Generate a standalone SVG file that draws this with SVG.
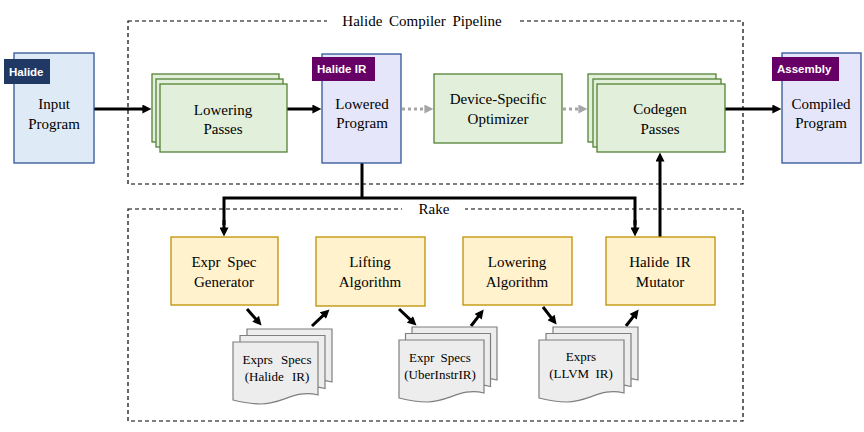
<svg xmlns="http://www.w3.org/2000/svg" width="864" height="432" viewBox="0 0 864 432">
<style>
.frame{fill:none;stroke:#000;stroke-width:1.2;stroke-dasharray:4 3}
.prog-in{fill:#DEEBF7;stroke:#2F5597;stroke-width:1.3}
.prog{fill:#E6E6FA;stroke:#2F5597;stroke-width:1.3}
.green{fill:#E2EFDA;stroke:#548235;stroke-width:1.3}
.yellow{fill:#FFF2CC;stroke:#BF9000;stroke-width:1.3}
.doc{fill:#EDEDED;stroke:#7F7F7F;stroke-width:1.2}
.conn{fill:none;stroke:#000;stroke-width:3}
.dot{fill:none;stroke:#A6A6A6;stroke-width:3;stroke-dasharray:3 3}
</style>
<defs>
<marker id="ah" viewBox="0 0 10 10" refX="4" refY="5" markerWidth="10" markerHeight="9" markerUnits="userSpaceOnUse" orient="auto">
<path d="M0,0 L10,5 L0,10 z" fill="#000"/>
</marker>
<marker id="ahg" viewBox="0 0 10 10" refX="4" refY="5" markerWidth="10" markerHeight="9" markerUnits="userSpaceOnUse" orient="auto">
<path d="M0,0 L10,5 L0,10 z" fill="#A6A6A6"/>
</marker>
<path id="docshape" d="M0,0 H85 V53 C62,47 50,62 28,62 C17,62 8,60 0,58 Z"/>
</defs>

<g id="frames">
<rect class="frame" x="128" y="21" width="615" height="163"/>
<rect x="327" y="12" width="190" height="18" fill="#fff"/>
<text x="422" y="26" style="font-family:'Liberation Serif',serif;font-size:15px;text-anchor:middle;word-spacing:3px">Halide Compiler Pipeline</text>
<rect class="frame" x="128" y="209" width="615" height="212"/>
<rect x="402" y="200" width="63" height="18" fill="#fff"/>
<text x="434" y="214" style="font-family:'Liberation Serif',serif;font-size:15px;text-anchor:middle">Rake</text>
</g>

<g id="connectors">
<line class="conn" x1="94" y1="109" x2="146" y2="109" marker-end="url(#ah)"/>
<line class="conn" x1="287" y1="109" x2="316" y2="109" marker-end="url(#ah)"/>
<line class="dot" x1="402" y1="109" x2="428" y2="109" marker-end="url(#ahg)"/>
<line class="dot" x1="563" y1="109" x2="582" y2="109" marker-end="url(#ahg)"/>
<line class="conn" x1="725" y1="109" x2="776" y2="109" marker-end="url(#ah)"/>
<path class="conn" d="M362,163 V198"/>
<path class="conn" d="M224,225 V198 H635 V225"/>
<line class="conn" x1="224" y1="220" x2="224" y2="231" marker-end="url(#ah)"/>
<line class="conn" x1="635" y1="220" x2="635" y2="231" marker-end="url(#ah)"/>
<line class="conn" x1="660" y1="237" x2="660" y2="158" marker-end="url(#ah)"/>
<line class="conn" x1="247" y1="309" x2="258" y2="321.5" marker-end="url(#ah)"/>
<line class="conn" x1="312" y1="326" x2="325.6" y2="313.1" marker-end="url(#ah)"/>
<line class="conn" x1="399" y1="309" x2="412.6" y2="321.9" marker-end="url(#ah)"/>
<line class="conn" x1="471" y1="326" x2="480.4" y2="313.8" marker-end="url(#ah)"/>
<line class="conn" x1="543" y1="307" x2="553.3" y2="320.3" marker-end="url(#ah)"/>
<line class="conn" x1="626" y1="326" x2="635.4" y2="313.8" marker-end="url(#ah)"/>
</g>

<g id="input-program">
<rect class="prog-in" x="14" y="53" width="80" height="110"/>
<rect x="4" y="59" width="46" height="25" fill="#1F3864"/>
<text x="9" y="76" style="font-family:'Liberation Sans',sans-serif;font-size:11.5px;font-weight:bold;fill:#fff">Halide</text>
<text x="54" y="109" style="font-family:'Liberation Serif',serif;font-size:15px;text-anchor:middle">Input</text>
<text x="54" y="129" style="font-family:'Liberation Serif',serif;font-size:15px;text-anchor:middle">Program</text>
</g>

<g id="lowering-passes">
<rect class="green" x="152" y="74" width="127" height="68"/>
<rect class="green" x="156" y="79" width="127" height="68"/>
<rect class="green" x="160" y="84" width="127" height="68"/>
<text x="223" y="115" style="font-family:'Liberation Serif',serif;font-size:15px;text-anchor:middle">Lowering</text>
<text x="223" y="134" style="font-family:'Liberation Serif',serif;font-size:15px;text-anchor:middle">Passes</text>
</g>

<g id="lowered-program">
<rect class="prog" x="322" y="54" width="79" height="109"/>
<rect x="312" y="57" width="63" height="24" fill="#660066"/>
<text x="317" y="73" style="font-family:'Liberation Sans',sans-serif;font-size:11.5px;font-weight:bold;fill:#fff">Halide IR</text>
<text x="362" y="109" style="font-family:'Liberation Serif',serif;font-size:15px;text-anchor:middle">Lowered</text>
<text x="362" y="128" style="font-family:'Liberation Serif',serif;font-size:15px;text-anchor:middle">Program</text>
</g>

<g id="device-optimizer">
<rect class="green" x="434" y="74" width="128" height="69"/>
<text x="498" y="104" style="font-family:'Liberation Serif',serif;font-size:15px;text-anchor:middle">Device-Specific</text>
<text x="498" y="124" style="font-family:'Liberation Serif',serif;font-size:15px;text-anchor:middle">Optimizer</text>
</g>

<g id="codegen-passes">
<rect class="green" x="588" y="74" width="128" height="68"/>
<rect class="green" x="593" y="79" width="128" height="68"/>
<rect class="green" x="597" y="84" width="128" height="68"/>
<text x="660" y="114" style="font-family:'Liberation Serif',serif;font-size:15px;text-anchor:middle">Codegen</text>
<text x="660" y="134" style="font-family:'Liberation Serif',serif;font-size:15px;text-anchor:middle">Passes</text>
</g>

<g id="compiled-program">
<rect class="prog" x="782" y="53" width="79" height="110"/>
<rect x="772" y="57" width="67" height="24" fill="#660066"/>
<text x="777" y="73" style="font-family:'Liberation Sans',sans-serif;font-size:11.5px;font-weight:bold;fill:#fff">Assembly</text>
<text x="821" y="109" style="font-family:'Liberation Serif',serif;font-size:15px;text-anchor:middle">Compiled</text>
<text x="821" y="128" style="font-family:'Liberation Serif',serif;font-size:15px;text-anchor:middle">Program</text>
</g>

<g id="expr-spec-generator">
<rect class="yellow" x="171" y="237" width="107" height="68"/>
<text x="224" y="267" style="font-family:'Liberation Serif',serif;font-size:15px;text-anchor:middle;word-spacing:3px">Expr Spec</text>
<text x="224" y="287" style="font-family:'Liberation Serif',serif;font-size:15px;text-anchor:middle">Generator</text>
</g>

<g id="lifting-algorithm">
<rect class="yellow" x="316" y="237" width="109" height="69"/>
<text x="370" y="267" style="font-family:'Liberation Serif',serif;font-size:15px;text-anchor:middle">Lifting</text>
<text x="370" y="287" style="font-family:'Liberation Serif',serif;font-size:15px;text-anchor:middle">Algorithm</text>
</g>

<g id="lowering-algorithm">
<rect class="yellow" x="463" y="237" width="109" height="68"/>
<text x="517" y="267" style="font-family:'Liberation Serif',serif;font-size:15px;text-anchor:middle">Lowering</text>
<text x="517" y="287" style="font-family:'Liberation Serif',serif;font-size:15px;text-anchor:middle">Algorithm</text>
</g>

<g id="halide-ir-mutator">
<rect class="yellow" x="606" y="237" width="109" height="68"/>
<text x="660" y="267" style="font-family:'Liberation Serif',serif;font-size:15px;text-anchor:middle;word-spacing:3px">Halide IR</text>
<text x="660" y="287" style="font-family:'Liberation Serif',serif;font-size:15px;text-anchor:middle">Mutator</text>
</g>

<g id="doc-halide-ir">
<use href="#docshape" class="doc" x="247" y="329"/>
<use href="#docshape" class="doc" x="240" y="335.5"/>
<use href="#docshape" class="doc" x="233" y="342"/>
<text x="277" y="364" style="font-family:'Liberation Serif',serif;font-size:13px;text-anchor:middle;word-spacing:5px">Exprs Specs</text>
<text x="277" y="381" style="font-family:'Liberation Serif',serif;font-size:13px;text-anchor:middle;word-spacing:5px">(Halide IR)</text>
</g>

<g id="doc-uberinstr-ir">
<use href="#docshape" class="doc" x="412" y="327"/>
<use href="#docshape" class="doc" x="405.5" y="333.5"/>
<use href="#docshape" class="doc" x="399" y="340"/>
<text x="440" y="362" style="font-family:'Liberation Serif',serif;font-size:13px;text-anchor:middle;word-spacing:3px">Expr Specs</text>
<text x="440" y="379" style="font-family:'Liberation Serif',serif;font-size:13px;text-anchor:middle">(UberInstrIR)</text>
</g>

<g id="doc-llvm-ir">
<use href="#docshape" class="doc" x="553" y="327"/>
<use href="#docshape" class="doc" x="546" y="333.5"/>
<use href="#docshape" class="doc" x="539" y="340"/>
<text x="581" y="361" style="font-family:'Liberation Serif',serif;font-size:13px;text-anchor:middle">Exprs</text>
<text x="581" y="378" style="font-family:'Liberation Serif',serif;font-size:13px;text-anchor:middle;word-spacing:3px">(LLVM IR)</text>
</g>
</svg>
